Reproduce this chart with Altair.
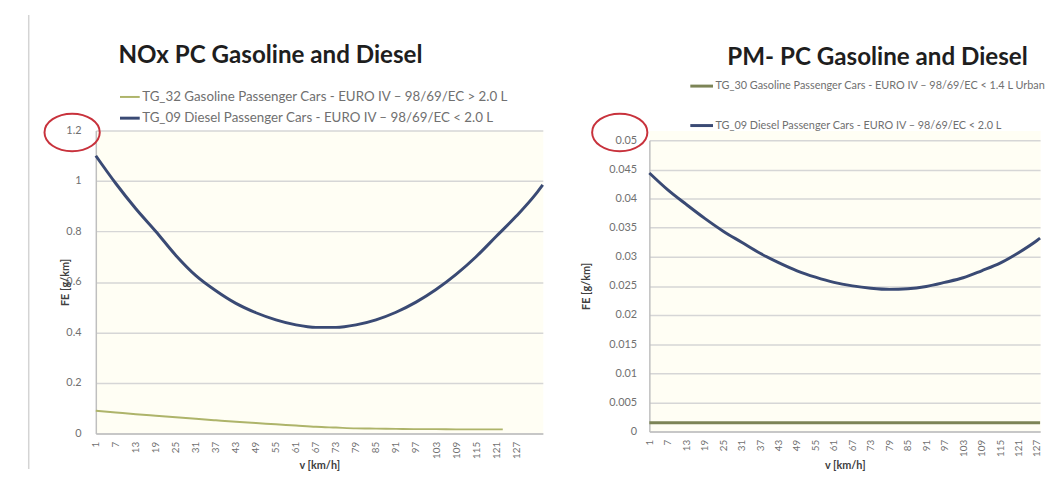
import altair as alt
import pandas as pd

# ---------------- data ----------------
NOX_GAS = "TG_32 Gasoline Passenger Cars - EURO IV – 98/69/EC > 2.0 L"
NOX_DIE = "TG_09 Diesel Passenger Cars - EURO IV – 98/69/EC < 2.0 L"
PM_GAS = "TG_30 Gasoline Passenger Cars - EURO IV – 98/69/EC < 1.4 L Urban"
PM_DIE = "TG_09 Diesel Passenger Cars - EURO IV – 98/69/EC < 2.0 L"

nox_diesel_v = [1, 7, 13, 19, 25, 31, 37, 43, 49, 55, 61, 67, 73, 79, 85, 91,
                97, 103, 109, 115, 121, 127, 133, 135]
nox_diesel_fe = [1.10, 0.99, 0.89, 0.80, 0.705, 0.625, 0.565, 0.515, 0.478,
                 0.45, 0.43, 0.42, 0.42, 0.43, 0.45, 0.48, 0.52, 0.57, 0.63,
                 0.70, 0.78, 0.86, 0.95, 0.985]

nox_gas_v = [1, 7, 13, 19, 25, 31, 37, 43, 49, 55, 61, 67, 73, 79, 85, 91,
             97, 103, 109, 115, 121, 123]
nox_gas_fe = [0.090, 0.083, 0.076, 0.070, 0.064, 0.058, 0.052, 0.046, 0.041,
              0.036, 0.031, 0.026, 0.023, 0.020, 0.019, 0.018, 0.017, 0.017,
              0.016, 0.016, 0.016, 0.016]

pm_v = [1, 7, 13, 19, 25, 31, 37, 43, 49, 55, 61, 67, 73, 79, 85, 91, 97,
        103, 109, 115, 121, 127, 128]
pm_diesel_fe = [0.0444, 0.0415, 0.0390, 0.0366, 0.0344, 0.0325, 0.0306,
                0.0290, 0.0276, 0.0265, 0.0256, 0.0250, 0.0246, 0.0244,
                0.0245, 0.0249, 0.0256, 0.0264, 0.0276, 0.0289, 0.0307,
                0.0328, 0.0332]
pm_gas_fe = [0.0015, 0.0015, 0.0015, 0.0015, 0.0015, 0.0015, 0.0015, 0.0015,
             0.0015, 0.0015, 0.0015, 0.0015, 0.0015, 0.0015, 0.0015, 0.0015,
             0.0015, 0.0015, 0.0015, 0.0015, 0.0015, 0.0015, 0.0015]

x_tick_values = [1, 7, 13, 19, 25, 31, 37, 43, 49, 55, 61, 67, 73, 79, 85, 91,
                 97, 103, 109, 115, 121, 127]
nox_y_ticks = [0, 0.2, 0.4, 0.6, 0.8, 1, 1.2]
pm_y_ticks = [0, 0.005, 0.01, 0.015, 0.02, 0.025, 0.03, 0.035, 0.04, 0.045,
              0.05]

NOX_TITLE = "NOx PC Gasoline and  Diesel"
PM_TITLE = "PM- PC Gasoline and  Diesel"

# ---------------- tables ----------------
nox_df = pd.concat([
    pd.DataFrame({"v": nox_gas_v, "fe": nox_gas_fe, "series": NOX_GAS}),
    pd.DataFrame({"v": nox_diesel_v, "fe": nox_diesel_fe, "series": NOX_DIE}),
])
pm_df = pd.concat([
    pd.DataFrame({"v": pm_v, "fe": pm_gas_fe, "series": PM_GAS}),
    pd.DataFrame({"v": pm_v, "fe": pm_diesel_fe, "series": PM_DIE}),
])

FONT = "Lato"
ELLIPSE = "M -1 0 A 1 0.68 0 1 1 1 0 A 1 0.68 0 1 1 -1 0 Z"
one = pd.DataFrame({"k": [0]})


def panel(df, order, colors, widths, xdom, ydom, yrange, yticks, w, h,
          ytitle_x, ytitle_y, xtitle_y, ylabel_pad, leg_x, leg_y, leg_font,
          leg_row_pad, leg_sym, title_text, title_x, title_y, ell_x, ell_y):
    lines = alt.Chart(df).mark_line(interpolate="monotone").encode(
        x=alt.X("v:Q",
                scale=alt.Scale(domain=xdom, nice=False, zero=False),
                axis=alt.Axis(values=x_tick_values, labelAngle=270,
                              grid=False, ticks=False, domainColor="#BFBFBF",
                              domainWidth=1.5, labelPadding=8,
                              labelFontSize=10, labelColor="#707070",
                              labelOverlap=False, title="v [km/h]",
                              titleFontWeight="bold", titleFontSize=11,
                              titleColor="#404040", titleY=xtitle_y,
                              titleBaseline="middle")),
        y=alt.Y("fe:Q",
                scale=alt.Scale(domain=ydom, range=yrange, nice=False,
                                zero=True),
                axis=alt.Axis(values=yticks, format="~g", grid=True,
                              gridColor="#D6D6D6", gridWidth=1.5, ticks=False,
                              domainColor="#BFBFBF", domainWidth=1.5,
                              labelPadding=ylabel_pad, labelFontSize=11,
                              labelColor="#707070", title="FE [g/km]",
                              titleFontWeight="bold", titleFontSize=11,
                              titleColor="#404040", titleX=ytitle_x,
                              titleY=ytitle_y, titleBaseline="middle")),
        color=alt.Color("series:N",
                        scale=alt.Scale(domain=order, range=colors),
                        legend=alt.Legend(orient="none", legendX=leg_x,
                                          legendY=leg_y, title=None,
                                          symbolType="stroke",
                                          symbolSize=leg_sym,
                                          symbolStrokeWidth=2.5,
                                          labelFont=FONT,
                                          labelFontSize=leg_font,
                                          labelColor="#707070",
                                          labelLimit=700, labelOffset=1,
                                          rowPadding=leg_row_pad)),
        strokeWidth=alt.StrokeWidth("series:N",
                                    scale=alt.Scale(domain=order,
                                                    range=widths),
                                    legend=None),
    )
    title = alt.Chart(pd.DataFrame({"t": [title_text]})).mark_text(
        align="left", baseline="middle", font=FONT, fontSize=24.5,
        fontWeight="bold", color="#1e1e1e",
    ).encode(text="t:N", x=alt.value(title_x), y=alt.value(title_y))
    ellipse = alt.Chart(one).mark_point(
        shape=ELLIPSE, size=3136, filled=False, color="#C8323C",
        strokeWidth=2, opacity=1,
    ).encode(x=alt.value(ell_x), y=alt.value(ell_y))
    return alt.layer(lines, title, ellipse).properties(width=w, height=h)


# left panel: plot area 127..434 px
left = panel(nox_df, [NOX_GAS, NOX_DIE], ["#AEB46A", "#3A4A74"], [2, 3],
             [1, 135], [0, 1.2], [307, 0], nox_y_ticks, 453, 307,
             -31, 153.5, 33, 15,
             23, -45, 13.5, 3, 400, NOX_TITLE, 23, -75, -24, 2)
left_frame = alt.Chart(one).mark_rule(color="#D4D4D4", strokeWidth=1.5).encode(
    x=alt.value(-68), y=alt.value(-117), y2=alt.value(343))
left = alt.layer(left, left_frame)

# right panel: same top as left (127), data range 137..432 px
right = panel(pm_df, [PM_GAS, PM_DIE], ["#7C8456", "#3A4A74"], [3, 3],
              [1, 128], [0, 0.05], [305, 10], pm_y_ticks, 396, 305,
              -64, 157.5, 35, 13,
              40, -58, 11, 21, 529, PM_TITLE, 79, -73, -30, 2)
right_marker = alt.Chart(one).mark_rule(color="white", strokeWidth=1).encode(
    x=alt.value(-100), y=alt.value(-60), y2=alt.value(-59))
right = alt.layer(right, right_marker)

chart = alt.hconcat(left, right, spacing=0).resolve_scale(
    x="independent", y="independent", color="independent",
    strokeWidth="independent",
).properties(
    padding={"left": 19, "top": 2, "right": 0, "bottom": 0},
    background="white",
).configure_view(
    fill="#FFFEF4", stroke="transparent",
).configure_axis(
    labelFont=FONT, titleFont=FONT,
)

chart.save("out.html", embed_options={"renderer": "svg", "actions": False})
